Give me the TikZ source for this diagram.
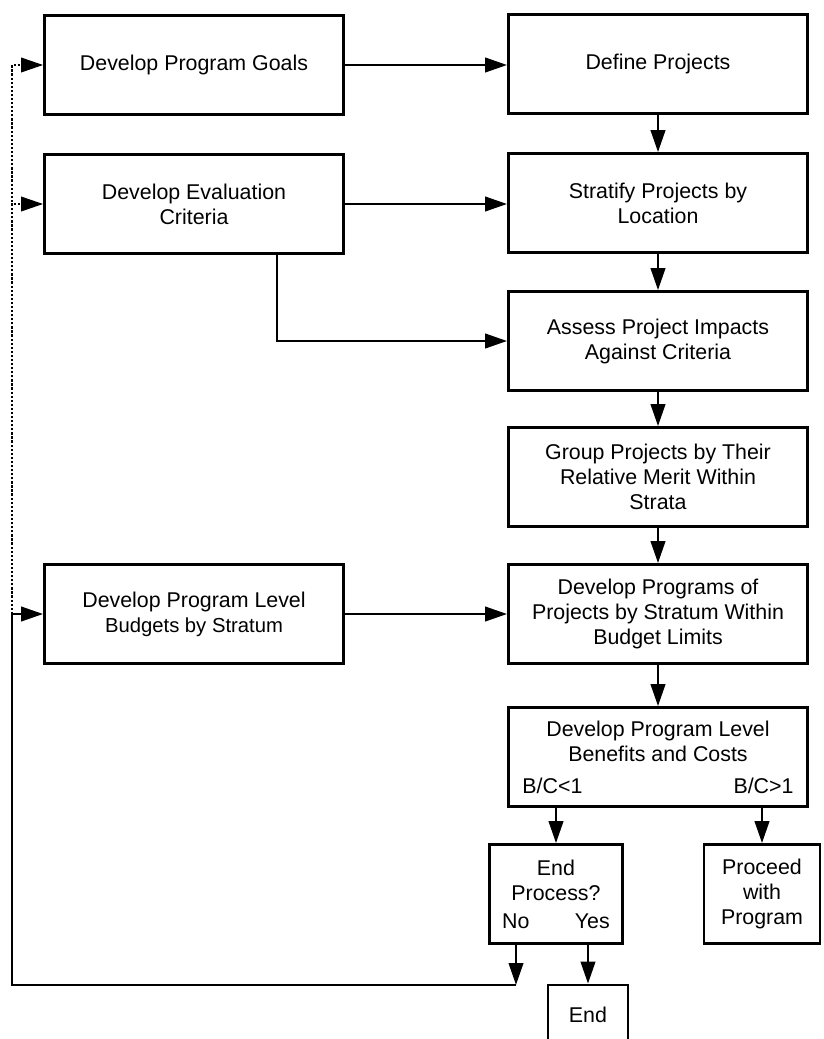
\documentclass[tikz,border=0pt]{standalone}
\usepackage{fontspec}
\setmainfont{Liberation Sans}
\usetikzlibrary{arrows.meta}
\tikzset{
    % style for the process boxes
    procbox/.style={
        draw,
        line width=1.9pt,
        minimum width=7.475cm,
        minimum height=2.475cm,
        align=center,
        inner sep=2pt,
        font=\fontsize{15.2}{17.8}\selectfont
    },
    % style for the narrow boxes at the bottom
    smallbox/.style={
        procbox,
        minimum width=#1
    },
    % style for the flow arrows
    flow/.style={
        line width=1.9pt,
        -{Triangle[length=5.5mm, width=3.6mm]}
    },
    % style for the dotted feedback arrows
    dotflow/.style={
        flow,
        line width=1.6pt,
        dash pattern=on 1.6pt off 1.3pt
    }
}

\begin{document}
\begin{tikzpicture}[x=0.025cm, y=-0.025cm]
    \useasboundingbox (0,0) rectangle (823,1039);
    \clip (0,0) rectangle (823,1039);
    % left column
    \node[procbox] (goals) at (194,65) {Develop Program Goals};
    \node[procbox] (eval) at (194,204) {Develop Evaluation\\Criteria};
    \node[procbox] (budget) at (194,614) {Develop Program Level\\{\fontsize{14.4}{17.8}\selectfont Budgets by Stratum}};
    % right column
    \node[procbox] (define) at (658,64) {Define Projects};
    \node[procbox] (strat) at (658,203) {Stratify Projects by\\Location};
    \node[procbox] (assess) at (658,341) {Assess Project Impacts\\Against Criteria};
    \node[procbox] (group) at (658,477) {Group Projects by Their\\Relative Merit Within\\Strata};
    \node[procbox] (programs) at (658,614) {Develop Programs of\\Projects by Stratum Within\\Budget Limits};
    \node[procbox] (benefit) at (658,757) {Develop Program Level\\Benefits and Costs\\[5pt]\makebox[6.775cm]{B/C<1\hfill B/C>1}};
    % decision and end boxes
    \node[smallbox=3.325cm] (endq) at (556,894) {End\\Process?\\[2pt]\makebox[2.69cm]{No\hfill Yes}};
    \node[smallbox=2.9cm] (proceed) at (762,894) {Proceed\\with\\Program};
    \node[smallbox=2cm, minimum height=1.5cm] (end) at (588,1015) {End};
    \coordinate (nofoot) at (516,985);
    \coordinate (loopcorner) at (12,985);
    % arrows
    \foreach \a/\b in {define/strat, strat/assess, assess/group, group/programs, programs/benefit} {
        \draw[flow] (\a) -- (\b);
    }
    \foreach \a/\b in {goals/define, eval/strat, budget/programs} {
        \draw[flow] (\a.east) -- (\a.east -| \b.west);
    }
    \draw[flow] ([xshift=2.075cm]eval.south) |- (assess.west);
    \draw[flow] (benefit.south -| endq.north) -- (endq.north);
    \draw[flow] (benefit.south -| proceed.north) -- (proceed.north);
    \draw[flow] (endq.south -| nofoot) -- (nofoot);
    \draw[flow] (endq.south -| end.north) -- (end.north);
    \draw[flow] (nofoot) -- (loopcorner) |- (budget.west);
    \draw[dotflow] (loopcorner |- budget.west) |- (goals.west);
    \draw[dotflow] (loopcorner |- budget.west) |- (eval.west);
\end{tikzpicture}
\end{document}
